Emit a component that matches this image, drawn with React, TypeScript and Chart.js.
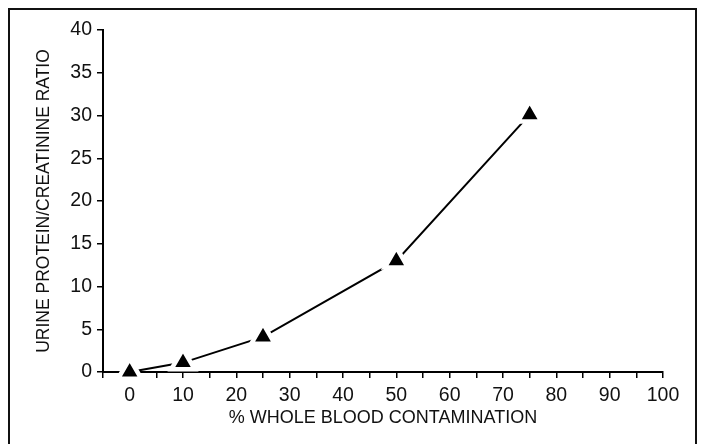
import { useEffect, useRef } from "react";
import { Chart, registerables } from "chart.js";

Chart.register(...registerables);

// Data
const contaminationPct = [0, 10, 25, 50, 75];
const proteinCreatinineRatio = [0, 1.1, 4.1, 13.0, 30.1];

// Tick labels
const xTickLabelValues = [0, 10, 20, 30, 40, 50, 60, 70, 80, 90, 100];
const yTickLabelValues = [0, 5, 10, 15, 20, 25, 30, 35, 40];

const xTitle = "% WHOLE BLOOD CONTAMINATION";
const yTitle = "URINE PROTEIN/CREATININE RATIO";

const framePlugin = {
  id: "frame",
  beforeDraw(chart: any) {
    const { ctx, width, height } = chart;
    ctx.save();
    ctx.fillStyle = "#fff";
    ctx.fillRect(0, 0, width, height);
    ctx.strokeStyle = "#111";
    ctx.lineWidth = 2;
    ctx.beginPath();
    ctx.moveTo(1, height + 5);
    ctx.lineTo(1, 1);
    ctx.lineTo(width - 9, 1);
    ctx.lineTo(width - 9, height + 5);
    ctx.stroke();
    ctx.restore();
  },
};

export default function App() {
  const ref = useRef<HTMLCanvasElement>(null);

  useEffect(() => {
    document.documentElement.style.overflow = "hidden";
    document.body.style.overflow = "hidden";
    const canvas = ref.current;
    if (!canvas) return;
    const tickFont = { family: "'Liberation Sans', Arial, sans-serif", size: 19.5 };
    const titleFont = { family: "'Liberation Sans', Arial, sans-serif", size: 18 };
    const chart = new Chart(canvas, {
      type: "line",
      data: {
        datasets: [
          {
            data: contaminationPct.map((x, i) => ({ x, y: proteinCreatinineRatio[i] })),
            borderColor: "#000",
            borderWidth: 2,
            tension: 0,
            pointStyle: "triangle",
            pointRadius: 13.5,
            pointBorderWidth: 4.5,
            pointBackgroundColor: "#000",
            pointBorderColor: "#fff",
            pointHoverRadius: 13.5,
            clip: false as any,
          },
        ],
      },
      options: {
        animation: false,
        responsive: false,
        devicePixelRatio: 1,
        events: [],
        layout: { padding: { top: 22, right: 42, left: 0, bottom: 0 } },
        plugins: { legend: { display: false }, tooltip: { enabled: false } },
        scales: {
          x: {
            type: "linear",
            min: -5,
            max: 100,
            z: 1,
            afterFit: (s: any) => {
              s.height = 72;
            },
            border: { color: "#000", width: 2 },
            grid: {
              drawOnChartArea: false,
              drawTicks: true,
              tickLength: 6,
              color: "#000",
              lineWidth: 1.5,
            },
            ticks: {
              stepSize: 5,
              autoSkip: false,
              maxRotation: 0,
              padding: 6,
              color: "#111",
              font: tickFont,
              callback: (v: any) =>
                xTickLabelValues.includes(Number(v)) ? String(v) : "",
            },
            title: {
              display: true,
              text: xTitle,
              color: "#111",
              font: titleFont,
              padding: { top: 0, bottom: 15 },
            },
          },
          y: {
            type: "linear",
            min: 0,
            max: 40,
            z: 1,
            afterFit: (s: any) => {
              s.width = 95;
            },
            border: { color: "#000", width: 2 },
            grid: {
              drawOnChartArea: false,
              drawTicks: true,
              tickLength: 6,
              color: "#000",
              lineWidth: 1.5,
            },
            ticks: {
              stepSize: 5,
              autoSkip: false,
              padding: 5,
              color: "#111",
              font: tickFont,
              callback: (v: any) =>
                yTickLabelValues.includes(Number(v)) ? String(v) : "",
            },
            title: {
              display: true,
              text: yTitle,
              color: "#111",
              font: { ...titleFont, size: 17.5 },
              padding: { top: 26, bottom: 0 },
            },
          },
        },
      },
      plugins: [framePlugin],
    });
    return () => chart.destroy();
  }, []);

  return (
    <div
      style={{
        position: "relative",
        width: 697,
        height: 436,
        overflow: "hidden",
      }}
    >
      <canvas
        ref={ref}
        width={697}
        height={436}
        style={{ position: "absolute", left: 0, top: 0, width: 697, height: 436 }}
      />
    </div>
  );
}
